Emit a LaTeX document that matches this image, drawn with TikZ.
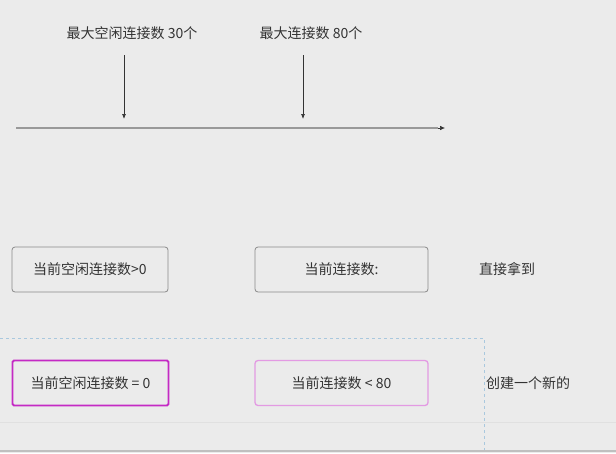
\documentclass[tikz,border=0pt]{standalone}
\usepackage{fontspec}
\setmainfont{Noto Sans CJK SC}
\usetikzlibrary{arrows.meta}
\definecolor{bg}{HTML}{EBEBEB}
\definecolor{boxline}{HTML}{8A8A8A}
\definecolor{magline}{HTML}{C42AC4}
\definecolor{pinkline}{HTML}{E39AE3}
\definecolor{dashblue}{HTML}{A9C8DE}
\tikzset{
  lbl/.style={font=\fontsize{14}{16}\selectfont, text=black!80, inner sep=0pt},
  cbox/.style={draw=boxline, line width=0.8pt, rounded corners=3pt, fill=bg, minimum height=45pt, inner sep=0pt, font=\fontsize{14}{16}\selectfont, text=black!80},
  tip/.style={-{Latex[length=5pt,width=4pt]}, line width=0.7pt, draw=black!80}
}
\begin{document}
\begin{tikzpicture}[x=1pt,y=-1pt]
\fill[bg] (0,0) rectangle (616,453);
\useasboundingbox (0,0) rectangle (616,453);
% top labels
\node[lbl] (t1) at (132,33) {最大空闲连接数 30个};
\node[lbl] (t2) at (311,33) {最大连接数 80个};
\coordinate (a1s) at (124,55);
\coordinate (a1e) at (124,119);
\coordinate (a2s) at (303,55);
\coordinate (a2e) at (303,119);
\draw[tip] (a1s) -- (a1e);
\draw[tip] (a2s) -- (a2e);
\coordinate (ls) at (16,128);
\coordinate (lt) at (438,128);
\coordinate (le) at (445,128);
\draw[line width=1.1pt, draw=black!40] (ls) -- (lt);
\draw[-{Latex[length=5pt,width=4.5pt]}, line width=0.6pt, draw=black!80] (lt) -- (le);
% boxes row 1
\node[cbox, minimum width=156pt] (b1) at (90,269.5) {当前空闲连接数>0};
\node[cbox, minimum width=173pt] (b2) at (341.5,269.5) {当前连接数:};
\node[lbl] (r1) at (507,269.5) {直接拿到};
% dashed region
\draw[dashblue, dashed, line width=0.6pt] (0,338) -- (484,338) -- (484,453);
\draw[black!12, line width=0.6pt] (0,422) -- (616,422);
\draw[black!25, line width=1.2pt] (0,451) -- (616,451);
% boxes row 2
\node[cbox, draw=magline, line width=1.8pt, rounded corners=1.5pt, minimum width=156pt] (b3) at (90.5,383) {当前空闲连接数 = 0};
\node[cbox, draw=pinkline, line width=1.3pt, minimum width=173pt] (b4) at (341.5,383) {当前连接数 < 80};
\node[lbl] (r2) at (528,383) {创建一个新的};
\end{tikzpicture}
\end{document}
